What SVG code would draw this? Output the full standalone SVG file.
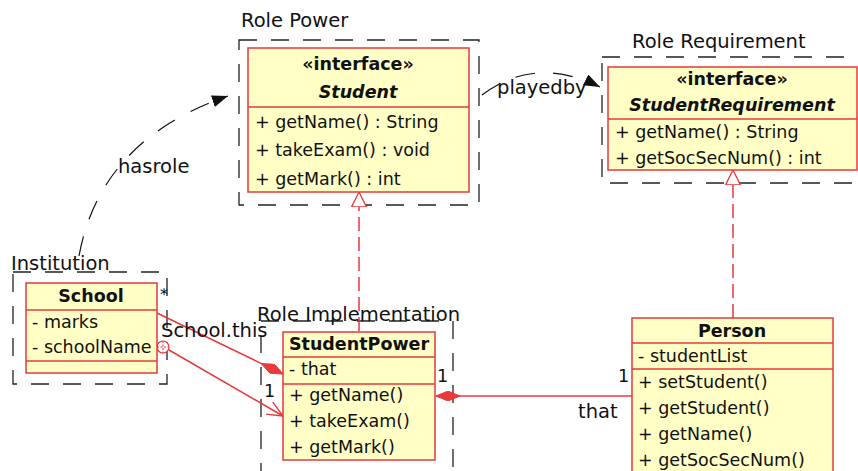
<svg xmlns="http://www.w3.org/2000/svg" width="858" height="471" viewBox="0 0 858 471">
  <style>
    text { font-family: "DejaVu Sans", "Liberation Sans", sans-serif; fill: #111; }
    .lbl { font-size: 19.5px; }
    .mem { font-size: 17.5px; }
    .hdr { font-size: 17.5px; font-weight: bold; text-anchor: middle; }
    .abs { font-style: italic; }
    .box { fill: #ffffc6; stroke: #e8393b; stroke-width: 1.5; }
    .sep { stroke: #e8393b; stroke-width: 1.5; }
    .frame { fill: none; stroke: #222; stroke-width: 1.3; stroke-dasharray: 18 14; }
    .rel { fill: none; stroke: #e8393b; stroke-width: 1.5; }
    .real { fill: none; stroke: #e8393b; stroke-width: 1.5; stroke-dasharray: 14 6; }
    .dep { fill: none; stroke: #111; stroke-width: 1.2; stroke-dasharray: 20 18; }
  </style>
  <defs>
    <marker id="diamond" viewBox="0 0 24 10" refX="0" refY="5" markerWidth="24" markerHeight="10" markerUnits="userSpaceOnUse" orient="auto">
      <path d="M0,5 L12,0 L24,5 L12,10 Z" fill="#e8393b" stroke="#e8393b" stroke-width="1"/>
    </marker>
    <marker id="hollow" viewBox="0 0 15 16" refX="15" refY="8" markerWidth="15" markerHeight="16" markerUnits="userSpaceOnUse" orient="auto">
      <path d="M0,0.5 L15,8 L0,15.5 Z" fill="#fff" stroke="#e8393b" stroke-width="1.3"/>
    </marker>
    <marker id="open" viewBox="0 0 16 14" refX="16" refY="7" markerWidth="16" markerHeight="14" markerUnits="userSpaceOnUse" orient="auto">
      <path d="M0,0 L16,7 L0,14" fill="none" stroke="#e8393b" stroke-width="1.4"/>
    </marker>
    <marker id="solid" viewBox="0 0 16 12" refX="16" refY="6" markerWidth="16" markerHeight="12" markerUnits="userSpaceOnUse" orient="auto">
      <path d="M0,0 L16,6 L0,12 Z" fill="#111"/>
    </marker>
  </defs>

  <!-- package frames -->
  <g id="frame-role-power">
    <rect class="frame" x="239" y="40" width="240" height="165"/>
    <text class="lbl" x="241" y="27">Role Power</text>
  </g>
  <g id="frame-role-requirement">
    <rect class="frame" x="602" y="57" width="270" height="126"/>
    <text class="lbl" x="632" y="48">Role Requirement</text>
  </g>
  <g id="frame-institution">
    <rect class="frame" x="13" y="272" width="154" height="112"/>
    <text class="lbl" x="11" y="270">Institution</text>
  </g>
  <g id="frame-role-implementation">
    <rect class="frame" x="261" y="321" width="192" height="160"/>
    <text class="lbl" x="257" y="321">Role Implementation</text>
  </g>

  <!-- connectors -->
  <g id="connectors">
    <path class="real" d="M359,331 L359,192" marker-end="url(#hollow)"/>
    <path class="real" d="M733,318 L733,170" marker-end="url(#hollow)"/>
    <path class="rel" d="M436,396 L632,396" marker-start="url(#diamond)"/>
    <path class="rel" d="M283,374 L157,313" marker-start="url(#diamond)"/>
    <path class="rel" d="M169,350 L283,416" marker-end="url(#open)"/>
    <circle cx="163" cy="347" r="6" fill="#fff" stroke="#e8393b" stroke-width="1.2"/>
    <path d="M157,347 L169,347 M163,341 L163,353" stroke="#e8393b" stroke-width="1" stroke-dasharray="2 1.5"/>
    <path class="dep" d="M79,256 Q100,140 228,96" marker-end="url(#solid)"/>
    <path class="dep" d="M482,95 Q535,55 600,87" marker-end="url(#solid)"/>
    <text class="lbl" x="118" y="173">hasrole</text>
    <text class="lbl" x="497" y="94">playedby</text>
    <text class="lbl" x="160" y="300" style="font-size:16px">*</text>
    <text class="lbl" x="161" y="337">School.this</text>
    <text class="mem" x="264" y="397">1</text>
    <text class="mem" x="437" y="382">1</text>
    <text class="mem" x="618" y="382">1</text>
    <text class="lbl" x="578" y="418">that</text>
  </g>

  <!-- classes -->
  <g id="node-student">
    <rect class="box" x="248" y="48" width="221" height="144"/>
    <line class="sep" x1="248" y1="107" x2="469" y2="107"/>
    <text class="hdr" x="358" y="70">«interface»</text>
    <text class="hdr abs" x="358" y="98">Student</text>
    <text class="mem" x="255" y="128">+ getName() : String</text>
    <text class="mem" x="255" y="156">+ takeExam() : void</text>
    <text class="mem" x="255" y="185">+ getMark() : int</text>
  </g>

  <g id="node-student-requirement">
    <rect class="box" x="608" y="67" width="249" height="103"/>
    <line class="sep" x1="608" y1="119" x2="857" y2="119"/>
    <text class="hdr" x="732" y="85">«interface»</text>
    <text class="hdr abs" x="732" y="111">StudentRequirement</text>
    <text class="mem" x="615" y="138">+ getName() : String</text>
    <text class="mem" x="615" y="164">+ getSocSecNum() : int</text>
  </g>

  <g id="node-school">
    <rect class="box" x="26" y="283" width="131" height="90"/>
    <line class="sep" x1="26" y1="310" x2="157" y2="310"/>
    <line class="sep" x1="26" y1="361" x2="157" y2="361"/>
    <text class="hdr" x="91" y="302">School</text>
    <text class="mem" x="32" y="328">- marks</text>
    <text class="mem" x="32" y="353">- schoolName</text>
  </g>

  <g id="node-student-power">
    <rect class="box" x="283" y="332" width="152" height="128"/>
    <line class="sep" x1="283" y1="357" x2="435" y2="357"/>
    <line class="sep" x1="283" y1="384" x2="435" y2="384"/>
    <text class="hdr" x="359" y="350">StudentPower</text>
    <text class="mem" x="289" y="375">- that</text>
    <text class="mem" x="289" y="401">+ getName()</text>
    <text class="mem" x="289" y="427">+ takeExam()</text>
    <text class="mem" x="289" y="453">+ getMark()</text>
  </g>

  <g id="node-person">
    <rect class="box" x="632" y="318" width="201" height="160"/>
    <line class="sep" x1="632" y1="343" x2="833" y2="343"/>
    <line class="sep" x1="632" y1="369" x2="833" y2="369"/>
    <text class="hdr" x="732" y="337">Person</text>
    <text class="mem" x="638" y="362">- studentList</text>
    <text class="mem" x="638" y="388">+ setStudent()</text>
    <text class="mem" x="638" y="414">+ getStudent()</text>
    <text class="mem" x="638" y="440">+ getName()</text>
    <text class="mem" x="638" y="466">+ getSocSecNum()</text>
  </g>
</svg>
